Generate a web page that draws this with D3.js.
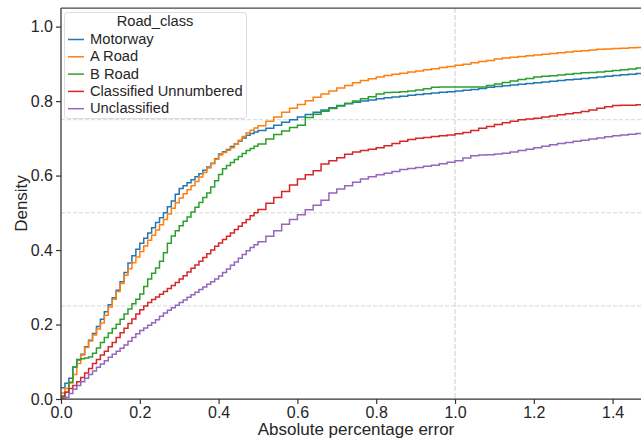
<!DOCTYPE html>
<html>
<head>
<meta charset="utf-8">
<script src="https://cdn.jsdelivr.net/npm/d3@7"></script>
<style>
  body { margin: 0; background: #fff; }
  svg { display: block; font-family: "Liberation Sans", Arial, sans-serif; }
</style>
</head>
<body>
<svg id="chart"></svg>
<script>
// x grid of the ECDF steps (absolute percentage error)
const errorGrid = [
  0, 0.01, 0.02, 0.03, 0.04, 0.05, 0.06, 0.07, 0.08, 0.09,
  0.10, 0.11, 0.12, 0.13, 0.14, 0.15, 0.16, 0.17, 0.18, 0.19,
  0.20, 0.21, 0.22, 0.23, 0.24, 0.25, 0.26, 0.27, 0.28, 0.29,
  0.30, 0.31, 0.32, 0.33, 0.34, 0.35, 0.36, 0.37, 0.38, 0.39,
  0.40, 0.41, 0.42, 0.43, 0.44, 0.45, 0.46, 0.47, 0.48, 0.49,
  0.50, 0.52, 0.54, 0.56, 0.58, 0.60, 0.62, 0.64, 0.66, 0.68,
  0.70, 0.72, 0.74, 0.76, 0.78, 0.80, 0.82, 0.84, 0.86, 0.88,
  0.90, 0.92, 0.94, 0.96, 0.98, 1.00, 1.02, 1.04, 1.06, 1.08,
  1.10, 1.12, 1.14, 1.16, 1.18, 1.20, 1.22, 1.24, 1.26, 1.28,
  1.30, 1.32, 1.34, 1.36, 1.38, 1.40, 1.42, 1.44, 1.46, 1.48
]

const motorway = [
  .030, .042, .056, .085, .105, .120, .140, .158, .176, .195,
  .214, .234, .253, .272, .292, .315, .340, .365, .385, .402,
  .418, .432, .446, .460, .474, .487, .500, .516, .532, .550,
  .565, .573, .581, .589, .597, .605, .614, .623, .633, .645,
  .658, .664, .670, .678, .685, .693, .701, .708, .713, .717,
  .721, .727, .735, .743, .750, .757, .764, .770, .776, .782,
  .788, .793, .797, .800, .803, .806, .809, .811, .813, .816,
  .818, .820, .822, .824, .825, .827, .829, .831, .834, .837,
  .839, .841, .843, .845, .847, .849, .851, .853, .855, .857,
  .859, .861, .863, .865, .867, .869, .871, .872, .874, .875
]

const aRoad = [
  .016, .028, .043, .066, .095, .118, .138, .156, .172, .188,
  .204, .225, .247, .268, .289, .310, .332, .350, .366, .381,
  .396, .411, .426, .440, .454, .468, .482, .497, .512, .527,
  .540, .551, .562, .573, .584, .596, .608, .620, .632, .644,
  .655, .662, .668, .675, .685, .695, .705, .715, .722, .728,
  .734, .746, .757, .770, .781, .791, .801, .810, .819, .827,
  .835, .842, .849, .855, .860, .865, .869, .872, .875, .878,
  .881, .884, .887, .890, .893, .896, .899, .903, .906, .909,
  .913, .916, .918, .920, .922, .924, .926, .928, .930, .932,
  .934, .935, .937, .939, .940, .941, .942, .943, .944, .945
]

const bRoad = [
  .005, .018, .045, .086, .106, .108, .110, .113, .123, .137,
  .152, .165, .177, .189, .201, .214, .228, .242, .256, .268,
  .282, .302, .322, .338, .352, .370, .393, .418, .438, .452,
  .465, .477, .489, .502, .515, .528, .541, .553, .569, .586,
  .603, .618, .627, .635, .643, .651, .659, .667, .673, .679,
  .685, .698, .710, .720, .729, .735, .756, .765, .773, .780,
  .787, .794, .800, .806, .812, .819, .823, .824, .825, .827,
  .830, .833, .837, .838, .838, .838, .838, .838, .838, .842,
  .846, .850, .854, .858, .861, .865, .867, .868, .870, .872,
  .874, .876, .877, .878, .880, .882, .884, .886, .889, .892
]

const classifiedUnnumbered = [
  .008, .018, .028, .036, .046, .058, .070, .082, .095, .106,
  .118, .128, .140, .152, .165, .178, .190, .203, .215, .228,
  .240, .250, .259, .267, .274, .281, .289, .297, .305, .313,
  .322, .331, .341, .351, .360, .370, .380, .390, .400, .410,
  .419, .428, .437, .446, .455, .464, .473, .482, .492, .500,
  .509, .526, .541, .557, .575, .591, .602, .613, .631, .640,
  .648, .657, .663, .667, .671, .675, .680, .686, .692, .697,
  .700, .702, .705, .707, .709, .712, .716, .721, .727, .732,
  .737, .742, .746, .750, .752, .754, .757, .760, .763, .766,
  .769, .772, .776, .781, .785, .788, .789, .789, .790, .791
]

const unclassified = [
  .000, .005, .015, .026, .036, .046, .056, .066, .075, .085,
  .094, .103, .112, .120, .128, .136, .145, .155, .165, .175,
  .184, .191, .198, .205, .213, .222, .231, .238, .245, .252,
  .259, .266, .273, .280, .287, .294, .301, .308, .315, .322,
  .330, .340, .349, .359, .368, .378, .388, .398, .407, .414,
  .422, .437, .452, .469, .482, .495, .508, .520, .534, .553,
  .564, .573, .582, .591, .597, .602, .606, .611, .616, .619,
  .622, .625, .628, .632, .636, .640, .647, .653, .655, .656,
  .658, .660, .663, .667, .671, .675, .679, .683, .686, .689,
  .692, .695, .698, .701, .704, .707, .709, .711, .713, .714
]

const roadClasses = ['Motorway', 'A Road', 'B Road', 'Classified Unnumbered', 'Unclassified']
const seriesValues = [motorway, aRoad, bRoad, classifiedUnnumbered, unclassified]
const colores = ['#1f77b4', '#ff7f0e', '#2ca02c', '#d62728', '#9467bd']

const xTicks = [0, 0.2, 0.4, 0.6, 0.8, 1.0, 1.2, 1.4]
const yTicks = [0, 0.2, 0.4, 0.6, 0.8, 1.0]
const densityRefs = [0.25, 0.5, 0.75]
const errorRefs = [1.0]

const widthSVG = 641
const heightSVG = 439
const plotLeft = 61, plotRight = 641, plotTop = 8, plotBottom = 399

let svg = d3.select('#chart')
  .attr('width', widthSVG)
  .attr('height', heightSVG)

let xScale = d3.scaleLinear().domain([0, 1.472]).range([plotLeft, plotRight])
let yScale = d3.scaleLinear().domain([0, 1.05]).range([plotBottom, plotTop])

svg.append('defs').append('clipPath').attr('id', 'area')
  .append('rect')
  .attr('x', plotLeft).attr('y', plotTop)
  .attr('width', plotRight - plotLeft).attr('height', plotBottom - plotTop)

// reference lines
svg.append('g').selectAll('line')
  .data(densityRefs)
  .enter()
  .append('line')
  .attr('x1', plotLeft).attr('x2', plotRight)
  .attr('y1', d => yScale(d)).attr('y2', d => yScale(d))
  .attr('stroke', '#d6d6d6')
  .attr('stroke-width', 1)
  .attr('stroke-dasharray', '4,2')

svg.append('g').selectAll('line')
  .data(errorRefs)
  .enter()
  .append('line')
  .attr('x1', d => xScale(d)).attr('x2', d => xScale(d))
  .attr('y1', plotTop).attr('y2', plotBottom)
  .attr('stroke', '#d6d6d6')
  .attr('stroke-width', 1.2)
  .attr('stroke-dasharray', '5,2')

// ecdf step lines
let linea = d3.line()
  .x(d => xScale(d[0]))
  .y(d => yScale(d[1]))
  .curve(d3.curveStepAfter)

svg.append('g')
  .attr('clip-path', 'url(#area)')
  .selectAll('path')
  .data(seriesValues)
  .enter()
  .append('path')
  .attr('d', vals => linea(errorGrid.map((e, i) => [e, vals[i]])))
  .attr('fill', 'none')
  .attr('stroke', (d, i) => colores[i])
  .attr('stroke-width', 1.5)

// axes
let xAxis = d3.axisBottom(xScale).tickValues(xTicks).tickFormat(d3.format('.1f')).tickSize(5).tickPadding(3)
let yAxis = d3.axisLeft(yScale).tickValues(yTicks).tickFormat(d3.format('.1f')).tickSize(5).tickPadding(3)

let gx = svg.append('g')
  .attr('transform', 'translate(0,' + plotBottom + ')')
  .call(xAxis)
let gy = svg.append('g')
  .attr('transform', 'translate(' + plotLeft + ',0)')
  .call(yAxis)

;[gx, gy].forEach(g => {
  g.select('.domain').remove()
  g.selectAll('.tick line').attr('stroke', '#333').attr('stroke-width', 1.2)
  g.selectAll('.tick text')
    .attr('fill', '#262626')
    .style('font-size', '16px')
    .style('font-family', '"Liberation Sans", Arial, sans-serif')
})

// spines
svg.append('line').attr('x1', plotLeft).attr('x2', plotLeft).attr('y1', plotTop).attr('y2', plotBottom)
  .attr('stroke', '#333').attr('stroke-width', 1.25)
svg.append('line').attr('x1', plotLeft).attr('x2', plotRight).attr('y1', plotBottom).attr('y2', plotBottom)
  .attr('stroke', '#333').attr('stroke-width', 1.25)
svg.append('line').attr('x1', plotLeft).attr('x2', plotRight).attr('y1', plotTop).attr('y2', plotTop)
  .attr('stroke', '#444').attr('stroke-width', 1.25)

// axis labels
svg.append('text')
  .attr('x', 356).attr('y', 435)
  .attr('text-anchor', 'middle')
  .attr('fill', '#262626')
  .style('font-size', '17px')
  .text('Absolute percentage error')

svg.append('text')
  .attr('transform', 'translate(27,' + ((plotTop + plotBottom) / 2) + ') rotate(-90)')
  .attr('text-anchor', 'middle')
  .attr('fill', '#262626')
  .style('font-size', '17px')
  .text('Density')

// legend
let leyenda = svg.append('g')
leyenda.append('rect')
  .attr('x', 64.5).attr('y', 12.5)
  .attr('width', 182).attr('height', 106)
  .attr('rx', 3)
  .attr('fill', 'rgba(255,255,255,0.85)')
  .attr('stroke', '#dddddd')
  .attr('stroke-width', 1)

leyenda.append('text')
  .attr('x', 155).attr('y', 26)
  .attr('text-anchor', 'middle')
  .attr('fill', '#262626')
  .style('font-size', '14.7px')
  .text('Road_class')

let items = leyenda.selectAll('g.item')
  .data(roadClasses)
  .enter()
  .append('g')
  .attr('class', 'item')
  .attr('transform', (d, i) => 'translate(0,' + (44 + i * 17.3) + ')')

items.append('line')
  .attr('x1', 68).attr('x2', 84)
  .attr('y1', -4.5).attr('y2', -4.5)
  .attr('stroke', (d, i) => colores[i])
  .attr('stroke-width', 1.5)

items.append('text')
  .attr('x', 90).attr('y', 0)
  .attr('fill', '#262626')
  .style('font-size', '14.7px')
  .text(d => d)
</script>
</body>
</html>
